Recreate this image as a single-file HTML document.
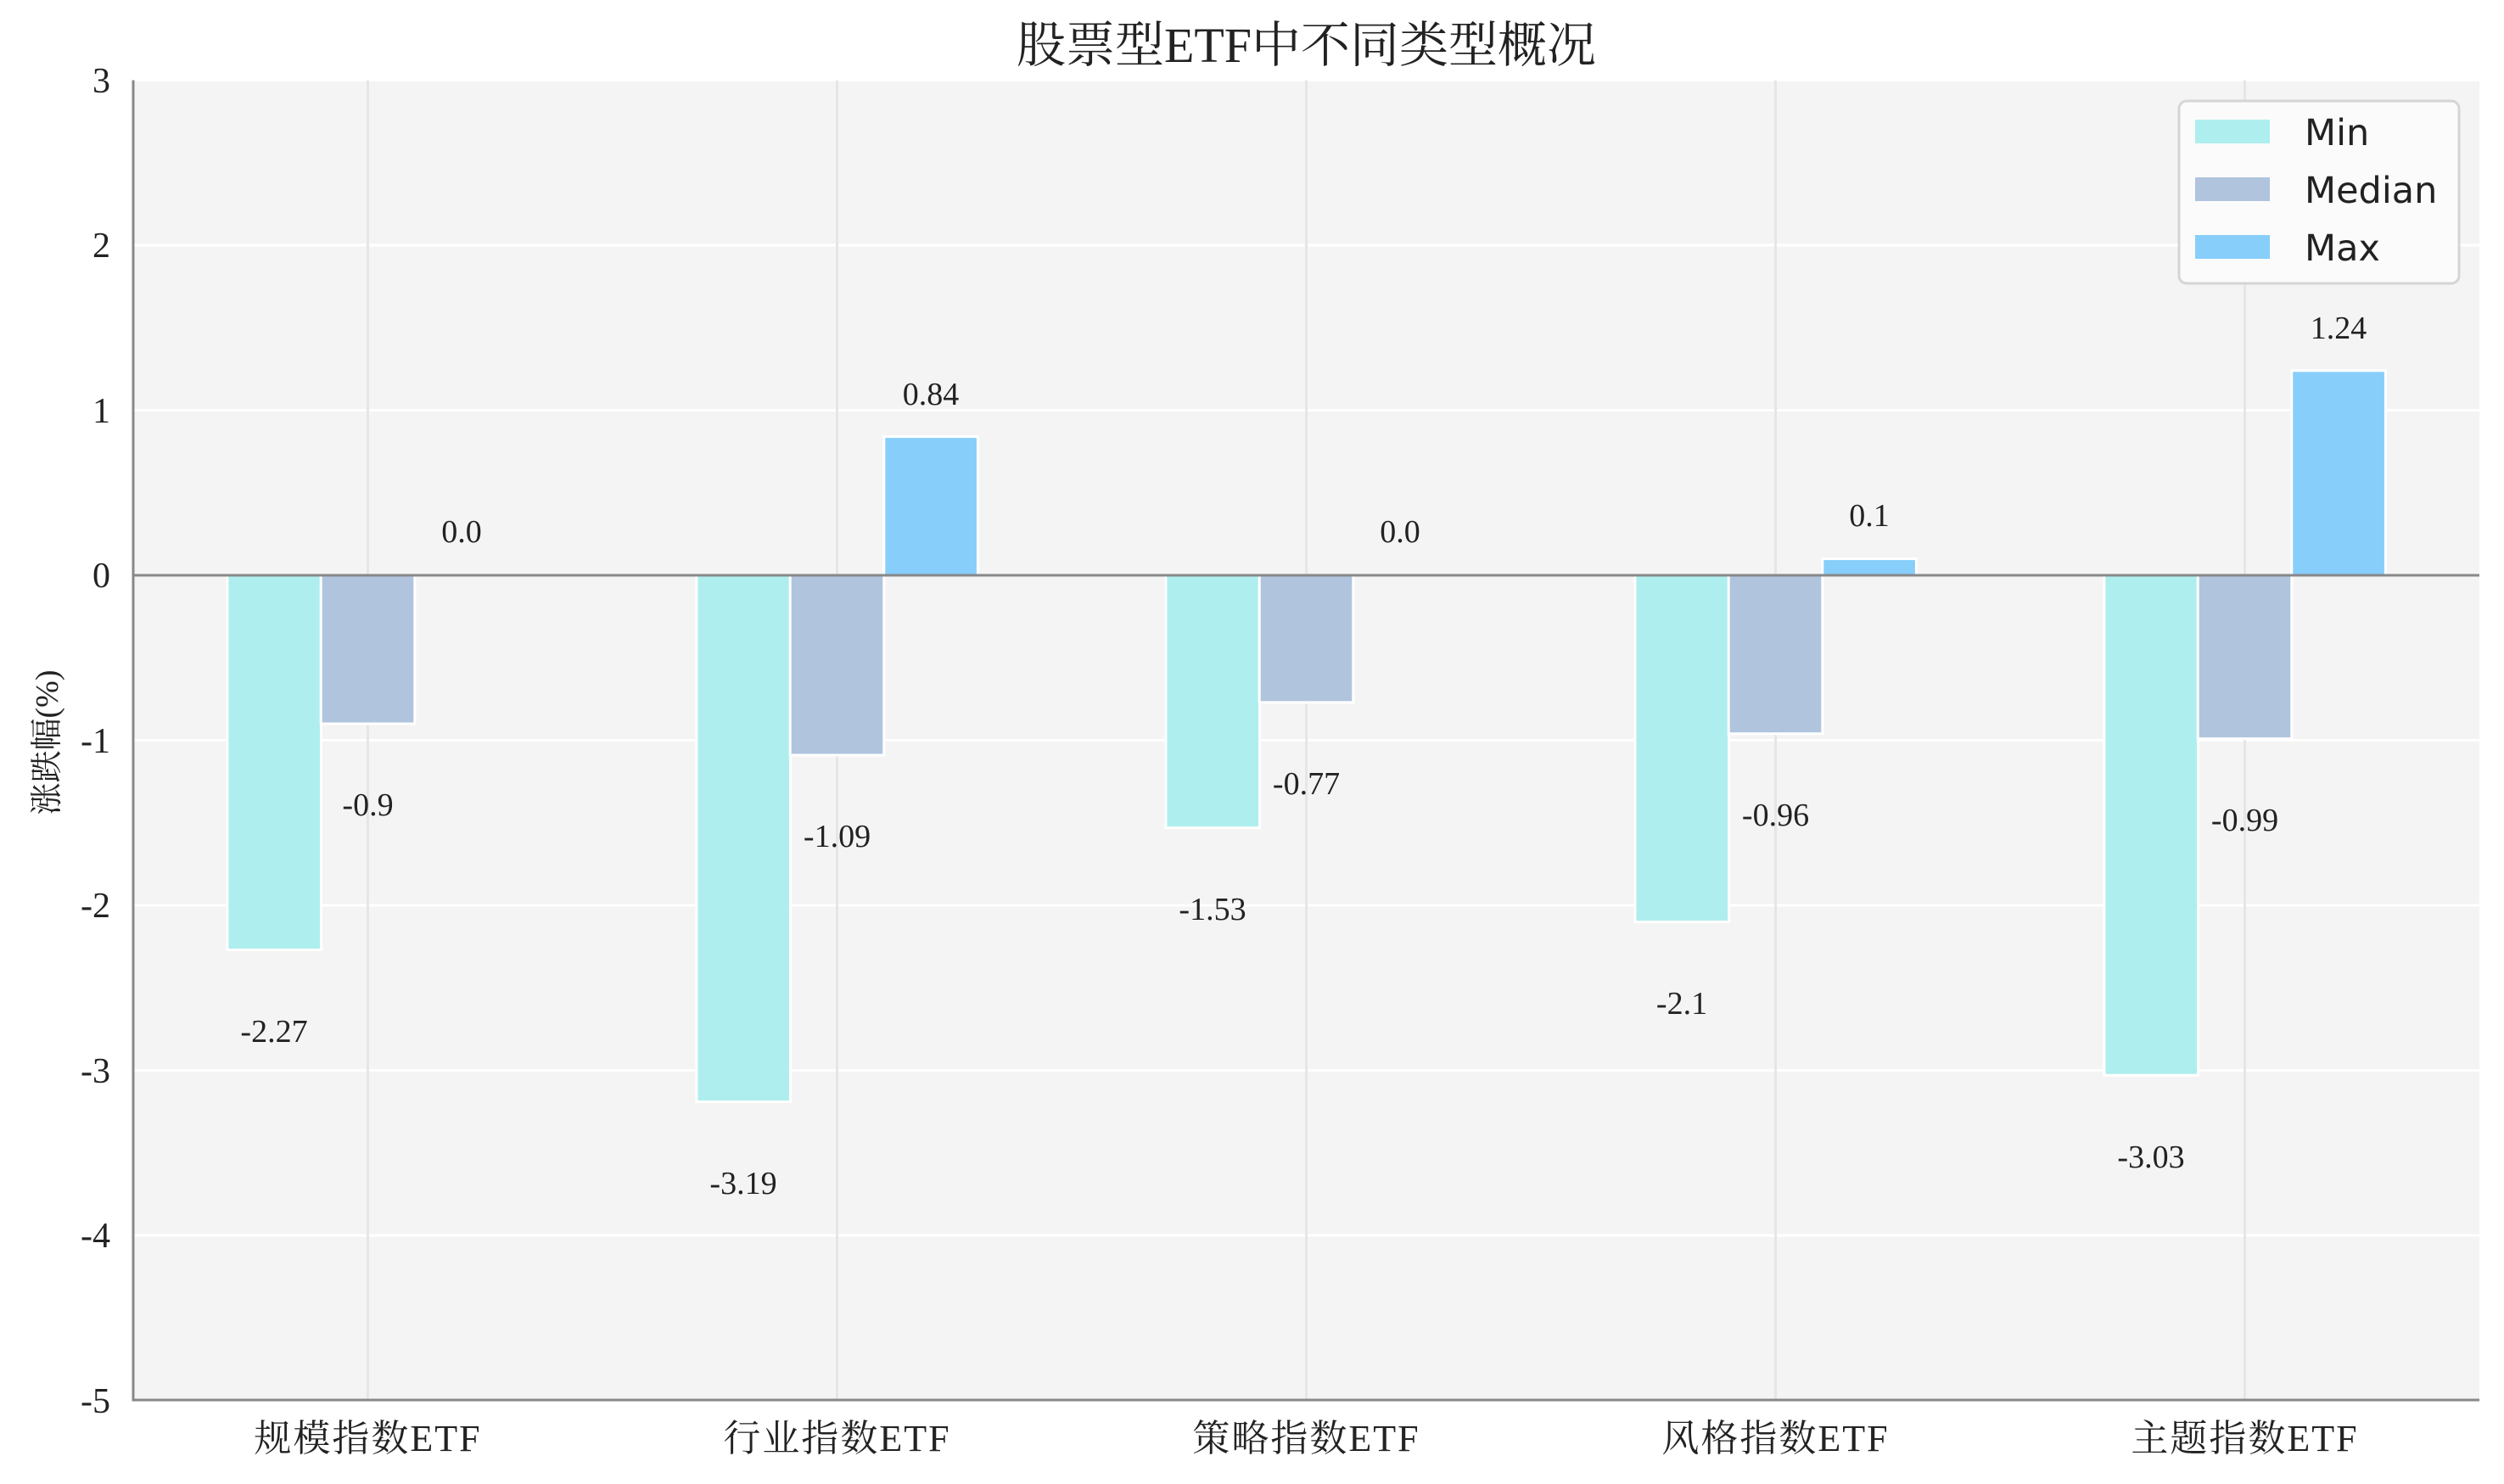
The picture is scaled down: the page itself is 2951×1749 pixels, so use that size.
<!DOCTYPE html>
<html><head><meta charset="utf-8"><style>
html,body{margin:0;padding:0;background:#fff;}
svg{display:block;}
.t{font-family:"Liberation Serif","Noto Serif CJK SC",serif;fill:#222;}
.l{font-family:"DejaVu Sans","Liberation Sans",sans-serif;fill:#222;}
</style></head><body>
<svg width="2951" height="1749" viewBox="0 0 2951 1749" xmlns="http://www.w3.org/2000/svg">
<rect width="2951" height="1749" fill="#fff"/>
<rect x="157" y="94.5" width="2765" height="1556" fill="#f4f4f4"/>
<g stroke="#fff" stroke-width="3">
<line x1="157" x2="2922" y1="94.5" y2="94.5"/>
<line x1="157" x2="2922" y1="289" y2="289"/>
<line x1="157" x2="2922" y1="483.5" y2="483.5"/>
<line x1="157" x2="2922" y1="872.5" y2="872.5"/>
<line x1="157" x2="2922" y1="1067" y2="1067"/>
<line x1="157" x2="2922" y1="1261.5" y2="1261.5"/>
<line x1="157" x2="2922" y1="1456" y2="1456"/>
</g>
<g stroke="#e6e6e6" stroke-width="3">
<line x1="433.5" x2="433.5" y1="94.5" y2="1650"/>
<line x1="986.5" x2="986.5" y1="94.5" y2="1650"/>
<line x1="1539.5" x2="1539.5" y1="94.5" y2="1650"/>
<line x1="2092.5" x2="2092.5" y1="94.5" y2="1650"/>
<line x1="2645.5" x2="2645.5" y1="94.5" y2="1650"/>
</g>
<g stroke="#fff" stroke-width="3">
<rect x="267.9" y="678" width="110.6" height="441.5" fill="#AFEEEE"/>
<rect x="820.9" y="678" width="110.6" height="620.5" fill="#AFEEEE"/>
<rect x="1373.9" y="678" width="110.6" height="297.6" fill="#AFEEEE"/>
<rect x="1926.9" y="678" width="110.6" height="408.5" fill="#AFEEEE"/>
<rect x="2479.9" y="678" width="110.6" height="589.3" fill="#AFEEEE"/>
<rect x="378.2" y="678" width="110.6" height="175" fill="#B0C4DE"/>
<rect x="931.2" y="678" width="110.6" height="212" fill="#B0C4DE"/>
<rect x="1484.2" y="678" width="110.6" height="149.8" fill="#B0C4DE"/>
<rect x="2037.2" y="678" width="110.6" height="186.7" fill="#B0C4DE"/>
<rect x="2590.2" y="678" width="110.6" height="192.6" fill="#B0C4DE"/>
<rect x="1041.8" y="514.6" width="110.6" height="163.4" fill="#87CEFA"/>
<rect x="2147.8" y="658.6" width="110.6" height="19.4" fill="#87CEFA"/>
<rect x="2700.8" y="436.8" width="110.6" height="241.2" fill="#87CEFA"/>
</g>
<line x1="157" x2="2922" y1="678" y2="678" stroke="#888" stroke-width="3"/>
<line x1="157" x2="157" y1="94.5" y2="1651.5" stroke="#888" stroke-width="3"/>
<line x1="155.5" x2="2922" y1="1650" y2="1650" stroke="#888" stroke-width="3"/>
<g class="t" font-size="38" text-anchor="middle">
<text x="323" y="1228">-2.27</text>
<text x="876" y="1407">-3.19</text>
<text x="1429" y="1084">-1.53</text>
<text x="1982" y="1195">-2.1</text>
<text x="2535" y="1376">-3.03</text>
<text x="433.5" y="961">-0.9</text>
<text x="986.5" y="998">-1.09</text>
<text x="1539.5" y="936">-0.77</text>
<text x="2092.5" y="973">-0.96</text>
<text x="2645.5" y="979">-0.99</text>
<text x="544" y="639">0.0</text>
<text x="1097" y="477">0.84</text>
<text x="1650" y="639">0.0</text>
<text x="2203" y="620">0.1</text>
<text x="2756" y="399">1.24</text>
</g>
<g class="t" font-size="42" text-anchor="end">
<text x="130" y="109">3</text>
<text x="130" y="303">2</text>
<text x="130" y="498">1</text>
<text x="130" y="692">0</text>
<text x="130" y="887">-1</text>
<text x="130" y="1081">-2</text>
<text x="130" y="1276">-3</text>
<text x="130" y="1470">-4</text>
<text x="130" y="1665">-5</text>
</g>
<g class="t" font-size="44" text-anchor="middle" letter-spacing="2">
<text x="433.5" y="1710">规模指数ETF</text>
<text x="986.5" y="1710">行业指数ETF</text>
<text x="1539.5" y="1710">策略指数ETF</text>
<text x="2092.5" y="1710">风格指数ETF</text>
<text x="2645.5" y="1710">主题指数ETF</text>
</g>
<text class="t" font-size="38" text-anchor="middle" transform="translate(68,875) rotate(-90)">涨跌幅(%)</text>
<text class="t" font-size="58" text-anchor="middle" x="1539.5" y="73">股票型ETF中不同类型概况</text>
<rect x="2568" y="119" width="330" height="215" rx="9" fill="#fbfbfb" stroke="#d5d5d5" stroke-width="3"/>
<rect x="2587" y="141" width="88" height="28" fill="#AFEEEE"/>
<rect x="2587" y="209" width="88" height="28" fill="#B0C4DE"/>
<rect x="2587" y="277" width="88" height="28" fill="#87CEFA"/>
<g class="l" font-size="43">
<text x="2716" y="171">Min</text>
<text x="2716" y="239">Median</text>
<text x="2716" y="307">Max</text>
</g>
</svg>
</body></html>
